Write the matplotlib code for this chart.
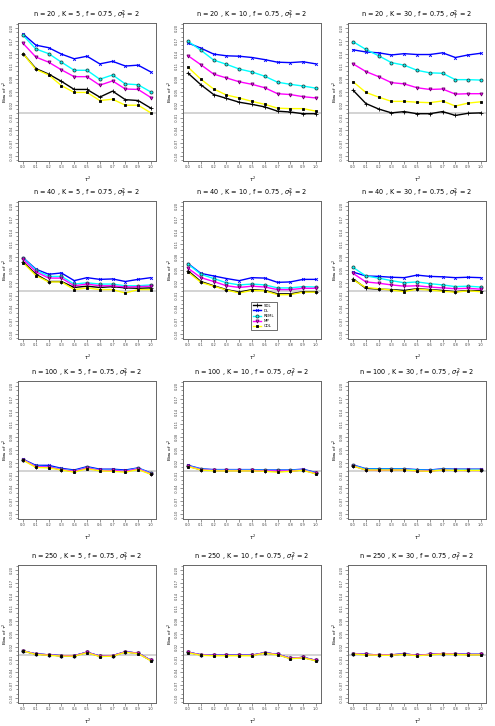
import numpy as np
import matplotlib
matplotlib.use("Agg")
import matplotlib.pyplot as plt

# x axis values
tau2 = [0.0, 0.1, 0.2, 0.3, 0.4, 0.5, 0.6, 0.7, 0.8, 0.9, 1.0]

# panel settings (row-major)
n_values = [20, 20, 20, 40, 40, 40, 100, 100, 100, 250, 250, 250]
k_values = [5, 10, 30, 5, 10, 30, 5, 10, 30, 5, 10, 30]

# bias of tau^2 per method, one row per panel
SDL = [
    [0.140, 0.105, 0.092, 0.075, 0.056, 0.056, 0.038, 0.052, 0.032, 0.030, 0.012],
    [0.094, 0.067, 0.044, 0.035, 0.026, 0.021, 0.015, 0.005, 0.003, -0.001, -0.001],
    [0.054, 0.023, 0.010, 0.001, 0.004, -0.001, -0.001, 0.004, -0.005, 0.000, 0.001],
    [0.069, 0.040, 0.023, 0.023, 0.009, 0.012, 0.009, 0.011, 0.008, 0.007, 0.008],
    [0.048, 0.023, 0.013, 0.004, -0.002, 0.004, 0.002, -0.006, -0.006, -0.001, -0.001],
    [0.029, 0.007, 0.005, 0.004, 0.002, 0.006, 0.004, 0.002, -0.001, 0.002, 0.001],
    [0.027, 0.011, 0.010, 0.004, 0.000, 0.008, 0.002, 0.002, 0.000, 0.006, -0.006],
    [0.012, 0.004, 0.002, 0.002, 0.002, 0.002, 0.001, 0.001, 0.001, 0.003, -0.005],
    [0.013, 0.004, 0.004, 0.004, 0.004, 0.002, 0.001, 0.004, 0.003, 0.003, 0.003],
    [0.010, 0.003, 0.001, -0.001, -0.001, 0.007, -0.002, -0.001, 0.008, 0.005, -0.012],
    [0.007, 0.001, 0.000, 0.000, 0.000, 0.000, 0.006, 0.002, -0.007, -0.005, -0.012],
    [0.004, 0.002, 0.001, 0.001, 0.003, 0.000, 0.002, 0.004, 0.003, 0.002, 0.002],
]
DL = [
    [0.186, 0.160, 0.154, 0.139, 0.128, 0.134, 0.116, 0.122, 0.111, 0.113, 0.097],
    [0.165, 0.153, 0.139, 0.135, 0.134, 0.131, 0.126, 0.120, 0.119, 0.121, 0.116],
    [0.149, 0.144, 0.142, 0.137, 0.140, 0.138, 0.138, 0.142, 0.131, 0.137, 0.141],
    [0.079, 0.052, 0.040, 0.043, 0.025, 0.032, 0.028, 0.029, 0.023, 0.028, 0.032],
    [0.065, 0.042, 0.036, 0.030, 0.025, 0.032, 0.031, 0.021, 0.022, 0.028, 0.028],
    [0.045, 0.036, 0.035, 0.033, 0.032, 0.038, 0.035, 0.034, 0.032, 0.033, 0.032],
    [0.028, 0.014, 0.014, 0.007, 0.003, 0.011, 0.005, 0.005, 0.003, 0.008, -0.004],
    [0.014, 0.006, 0.004, 0.004, 0.004, 0.004, 0.003, 0.003, 0.003, 0.005, -0.003],
    [0.015, 0.006, 0.006, 0.006, 0.006, 0.004, 0.003, 0.006, 0.005, 0.005, 0.005],
    [0.010, 0.003, 0.001, -0.001, -0.001, 0.007, -0.002, -0.001, 0.008, 0.005, -0.012],
    [0.007, 0.001, 0.000, 0.000, 0.000, 0.000, 0.006, 0.002, -0.007, -0.005, -0.012],
    [0.004, 0.002, 0.001, 0.001, 0.003, 0.000, 0.002, 0.004, 0.003, 0.002, 0.002],
]
REML = [
    [0.183, 0.151, 0.140, 0.120, 0.101, 0.101, 0.080, 0.090, 0.069, 0.067, 0.050],
    [0.169, 0.148, 0.125, 0.115, 0.104, 0.097, 0.087, 0.073, 0.068, 0.064, 0.059],
    [0.168, 0.150, 0.135, 0.119, 0.113, 0.101, 0.095, 0.094, 0.079, 0.079, 0.078],
    [0.078, 0.050, 0.035, 0.035, 0.017, 0.020, 0.017, 0.017, 0.013, 0.013, 0.015],
    [0.064, 0.040, 0.030, 0.020, 0.015, 0.017, 0.015, 0.008, 0.008, 0.011, 0.010],
    [0.056, 0.036, 0.031, 0.025, 0.020, 0.022, 0.018, 0.015, 0.011, 0.012, 0.010],
    [0.027, 0.012, 0.011, 0.005, 0.001, 0.009, 0.003, 0.003, 0.001, 0.007, -0.005],
    [0.013, 0.005, 0.003, 0.003, 0.003, 0.003, 0.002, 0.002, 0.002, 0.004, -0.004],
    [0.014, 0.005, 0.005, 0.005, 0.005, 0.003, 0.002, 0.005, 0.004, 0.004, 0.004],
    [0.010, 0.003, 0.001, -0.001, -0.001, 0.007, -0.002, -0.001, 0.008, 0.005, -0.012],
    [0.007, 0.001, 0.000, 0.000, 0.000, 0.000, 0.006, 0.002, -0.007, -0.005, -0.012],
    [0.004, 0.002, 0.001, 0.001, 0.003, 0.000, 0.002, 0.004, 0.003, 0.002, 0.002],
]
MP = [
    [0.164, 0.132, 0.120, 0.102, 0.086, 0.086, 0.066, 0.076, 0.057, 0.056, 0.037],
    [0.135, 0.114, 0.092, 0.083, 0.074, 0.068, 0.060, 0.046, 0.044, 0.039, 0.036],
    [0.116, 0.098, 0.086, 0.072, 0.069, 0.060, 0.056, 0.057, 0.045, 0.046, 0.046],
    [0.075, 0.046, 0.031, 0.031, 0.013, 0.017, 0.013, 0.013, 0.010, 0.011, 0.012],
    [0.054, 0.032, 0.023, 0.013, 0.009, 0.012, 0.010, 0.004, 0.004, 0.007, 0.007],
    [0.042, 0.022, 0.019, 0.015, 0.012, 0.013, 0.010, 0.008, 0.006, 0.007, 0.005],
    [0.027, 0.011, 0.010, 0.004, 0.000, 0.008, 0.002, 0.002, 0.000, 0.006, -0.006],
    [0.012, 0.004, 0.002, 0.002, 0.002, 0.002, 0.001, 0.001, 0.001, 0.003, -0.005],
    [0.013, 0.003, 0.002, 0.003, 0.003, 0.001, 0.001, 0.003, 0.002, 0.002, 0.002],
    [0.010, 0.003, 0.001, -0.001, -0.001, 0.007, -0.002, -0.001, 0.008, 0.005, -0.012],
    [0.007, 0.001, 0.000, 0.000, 0.000, 0.000, 0.006, 0.002, -0.007, -0.005, -0.012],
    [0.004, 0.002, 0.001, 0.001, 0.003, 0.000, 0.002, 0.004, 0.003, 0.002, 0.002],
]
CDL = [
    [0.140, 0.103, 0.090, 0.065, 0.049, 0.049, 0.030, 0.033, 0.019, 0.019, 0.001],
    [0.108, 0.080, 0.057, 0.043, 0.036, 0.028, 0.021, 0.012, 0.011, 0.011, 0.005],
    [0.074, 0.049, 0.038, 0.028, 0.028, 0.026, 0.025, 0.029, 0.017, 0.024, 0.027],
    [0.067, 0.037, 0.022, 0.022, 0.004, 0.008, 0.004, 0.004, -0.004, 0.004, 0.004],
    [0.045, 0.021, 0.012, 0.003, -0.004, 0.002, 0.001, -0.008, -0.008, -0.002, -0.002],
    [0.027, 0.009, 0.006, 0.003, -0.001, 0.005, 0.003, 0.000, -0.002, 0.001, -0.001],
    [0.026, 0.009, 0.008, 0.003, -0.002, 0.006, 0.001, 0.000, -0.002, 0.004, -0.007],
    [0.011, 0.003, 0.001, 0.001, 0.001, 0.001, 0.000, -0.002, 0.000, 0.002, -0.006],
    [0.012, 0.003, 0.003, 0.003, 0.003, 0.001, 0.000, 0.003, 0.002, 0.002, 0.002],
    [0.010, 0.002, 0.000, -0.002, -0.002, 0.006, -0.003, -0.002, 0.007, 0.004, -0.013],
    [0.006, 0.000, -0.001, -0.001, -0.001, -0.001, 0.005, 0.001, -0.008, -0.006, -0.013],
    [0.003, 0.001, 0.000, 0.000, 0.002, -0.001, 0.001, 0.003, 0.002, 0.001, 0.001],
]

methods = ["SDL", "DL", "REML", "MP", "CDL"]
series = [SDL, DL, REML, MP, CDL]
styles = [
    dict(color="black", marker="+", mfc="black", mec="black", ms=2.5),
    dict(color="#0000ff", marker="x", mfc="#0000ff", mec="#0000ff", ms=2.0),
    dict(color="#00ffff", marker="o", mfc="#00ffff", mec="#224444", ms=2.2),
    dict(color="#ff00ff", marker="v", mfc="#ff00ff", mec="#660066", ms=2.2),
    dict(color="#ffff00", marker="s", mfc="black", mec="black", ms=2.0),
]

W, H = 495, 726
fig = plt.figure(figsize=(W / 100, H / 100), dpi=100)

lefts = [18, 183, 348]
tops = [23, 201, 381, 565]
pw, ph = 138, 138

ymajor = np.round(np.arange(-0.10, 0.201, 0.03), 2)
yminor = np.round(np.arange(-0.11, 0.211, 0.01), 2)

for i in range(12):
    r, c = divmod(i, 3)
    ax = fig.add_axes([lefts[c] / W, 1 - (tops[r] + ph) / H, pw / W, ph / H])
    ax.axhline(0, color="#d0d0d0", lw=1.3, zorder=0)
    handles = []
    for name, data, st in zip(methods, series, styles):
        (h,) = ax.plot(tau2, data[i], lw=1.0, markeredgewidth=0.6, label=name,
                       color=st["color"], marker=st["marker"], ms=st["ms"],
                       markerfacecolor=st["mfc"], markeredgecolor=st["mec"])
        handles.append(h)
    ax.set_xlim(-0.04, 1.04)
    ax.set_ylim(-0.112, 0.212)
    ax.set_xticks(tau2)
    ax.set_xticklabels([f"{t:.1f}" for t in tau2])
    ax.set_yticks(ymajor)
    ax.set_yticklabels([f"{v:.2f}" for v in ymajor], rotation=90, va="center")
    ax.set_yticks(yminor, minor=True)
    ax.tick_params(axis="both", which="major", labelsize=2.6, length=2, width=0.4,
                   pad=1.2, colors="#444444")
    ax.tick_params(axis="y", which="minor", length=1.2, width=0.4, colors="#444444")
    for sp in ax.spines.values():
        sp.set_color("#666666")
        sp.set_linewidth(0.7)
    ax.set_xlabel(r"$\tau^2$", fontsize=3.5)
    ax.xaxis.set_label_coords(0.5, -0.1)
    ax.set_ylabel(r"Bias of $\tau^2$", fontsize=3.2)
    ax.yaxis.set_label_coords(-0.058, 0.5)
    ax.set_title(f"n = {n_values[i]} , K = {k_values[i]} , f = 0.75 , "
                 r"$\sigma_T^2$ = 2", fontsize=4.7, pad=4)
    if i == 4:
        leg = ax.legend(handles, methods, loc="lower left",
                        bbox_to_anchor=(0.48, 0.05), fontsize=2.8,
                        frameon=True, fancybox=False, edgecolor="black",
                        handlelength=2.0, borderpad=0.5, labelspacing=0.3)
        leg.get_frame().set_linewidth(0.5)

fig.savefig("out.png", dpi=100)
